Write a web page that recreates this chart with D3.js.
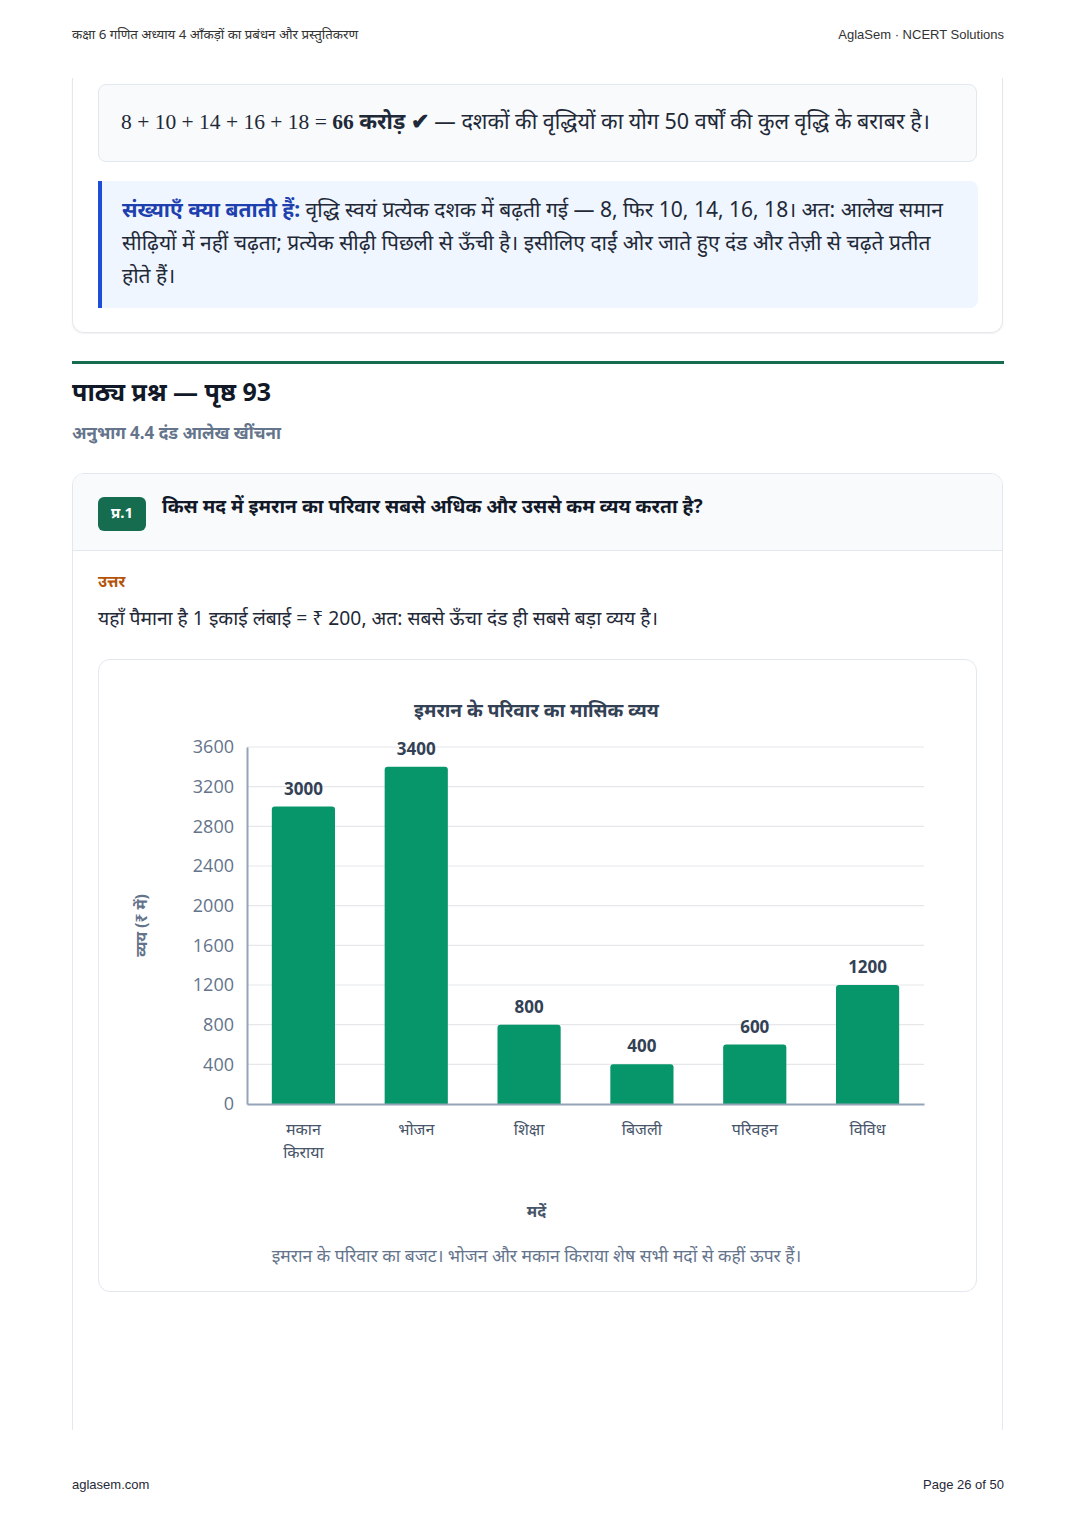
<!DOCTYPE html>
<html lang="hi">
<head>
<meta charset="utf-8">
<script src="https://cdn.jsdelivr.net/npm/d3@7"></script>
<style>
  html, body { margin: 0; padding: 0; background: #fff; }
  body { width: 1076px; height: 1522px; position: relative; font-family: "Noto Sans", sans-serif; color: #1f2937; overflow: hidden; }
  .abs { position: absolute; }
  .hdr { top: 25px; font-size: 13.3px; color: #333; }
  .latin { font-family: "Liberation Sans", Arial, sans-serif; font-size: 13px; top: 27px; }
  .outer1 { left: 72px; top: 78px; width: 929px; height: 254px; border: 1px solid #e5e7eb; border-top: none; border-radius: 0 0 12px 12px; box-shadow: 0 1px 2px rgba(0,0,0,0.06); }
  .formula { left: 98px; top: 84px; width: 877px; height: 76px; background: #f8fafc; border: 1px solid #e2e8f0; border-radius: 8px; }
  .formula p { margin: 0; position: absolute; left: 22px; top: 21px; font-size: 21.5px; color: #1f2937; white-space: nowrap; }
  .serif { font-family: "Liberation Serif", serif; font-size: 21.5px; }
  .callout { left: 98px; top: 181px; width: 876px; height: 127px; background: #eff6ff; border-left: 4px solid #1d4ed8; border-radius: 0 8px 8px 0; }
  .callout p { margin: 0; position: absolute; left: 20px; top: 12px; width: 835px; font-size: 21px; line-height: 33px; color: #1f2937; }
  .callout b { color: #1e40af; }
  .rule { left: 72px; top: 361px; width: 932px; height: 3px; background: #166c4e; }
  .h2 { left: 72px; top: 374px; font-size: 25px; font-weight: 700; color: #111827; }
  .h3 { left: 72px; top: 421px; font-size: 17px; font-weight: 700; color: #64748b; }
  .qcard { left: 72px; top: 473px; width: 929px; height: 1000px; border: 1px solid #e2e8f0; border-radius: 12px; overflow: hidden; }
  .qhead { left: 0; top: 0; width: 929px; height: 76px; background: #f8fafc; border-bottom: 1px solid #e2e8f0; }
  .badge { left: 25px; top: 23px; width: 48px; height: 34px; background: #166c4e; border-radius: 6px; color: #fff; font-weight: 700; font-size: 15px; text-align: center; line-height: 30px; }
  .qtext { left: 89px; top: 18px; font-size: 19.2px; font-weight: 700; color: #111827; }
  .ans { left: 98px; top: 570px; font-size: 15.5px; font-weight: 700; color: #b45309; }
  .ansp { left: 98px; top: 604px; font-size: 19.3px; color: #1f2937; }
  .chartcard { left: 98px; top: 659px; width: 877px; height: 631px; border: 1px solid #e2e8f0; border-radius: 12px; background: #fff; }
  .pagecut { left: 0; top: 1430px; width: 1076px; height: 92px; background: #fff; }
</style>
</head>
<body>
<div class="abs hdr" style="left:72px;">कक्षा 6 गणित अध्याय 4 आँकड़ों का प्रबंधन और प्रस्तुतिकरण</div>
<div class="abs hdr latin" style="right:72px;">AglaSem · NCERT Solutions</div>

<div class="abs outer1"></div>
<div class="abs formula"><p><span class="serif">8 + 10 + 14 + 16 + 18 = <b>66</b></span> <b>करोड़ ✔</b> — दशकों की वृद्धियों का योग 50 वर्षों की कुल वृद्धि के बराबर है।</p></div>
<div class="abs callout"><p><b>संख्याएँ क्या बताती हैं:</b> वृद्धि स्वयं प्रत्येक दशक में बढ़ती गई — 8, फिर 10, 14, 16, 18। अत: आलेख समान सीढ़ियों में नहीं चढ़ता; प्रत्येक सीढ़ी पिछली से ऊँची है। इसीलिए दाईं ओर जाते हुए दंड और तेज़ी से चढ़ते प्रतीत होते हैं।</p></div>

<div class="abs rule"></div>
<div class="abs h2">पाठ्य प्रश्न — पृष्ठ 93</div>
<div class="abs h3">अनुभाग 4.4 दंड आलेख खींचना</div>

<div class="abs qcard">
  <div class="abs qhead">
    <div class="abs badge">प्र.1</div>
    <div class="abs qtext">किस मद में इमरान का परिवार सबसे अधिक और उससे कम व्यय करता है?</div>
  </div>
</div>
<div class="abs pagecut"></div>
<div class="abs ans">उत्तर</div>
<div class="abs ansp">यहाँ पैमाना है 1 इकाई लंबाई = ₹ 200, अत: सबसे ऊँचा दंड ही सबसे बड़ा व्यय है।</div>

<div class="abs chartcard" id="chart"></div>

<div class="abs latin" style="left:72px; top:1477px;">aglasem.com</div>
<div class="abs latin" style="right:72px; top:1477px;">Page 26 of 50</div>

<script>
// data
var items = [["मकान", "किराया"], ["भोजन"], ["शिक्षा"], ["बिजली"], ["परिवहन"], ["विविध"]];
var spend = [3000, 3400, 800, 400, 600, 1200];
var yTicks = [0, 400, 800, 1200, 1600, 2000, 2400, 2800, 3200, 3600];

var chartTitle = "इमरान के परिवार का मासिक व्यय";
var xTitle = "मदें";
var yTitle = "व्यय (₹ में)";
var caption = "इमरान के परिवार का बजट। भोजन और मकान किराया शेष सभी मदों से कहीं ऊपर हैं।";

var data = items.map(function (d, i) {
    return {key: d.join(" "), lines: d, value: spend[i]};
});

var W = 877, H = 631;
var margin = {top: 87, right: 52, bottom: 187, left: 148};
var width = W - margin.left - margin.right,
    height = H - margin.top - margin.bottom;

var svg = d3.select("#chart").append("svg")
    .attr("width", W)
    .attr("height", H)
    .style("position", "absolute")
    .style("left", 0)
    .style("top", 0);

var g = svg.append("g")
    .attr("transform", "translate(" + margin.left + "," + margin.top + ")");

var x = d3.scaleBand()
    .domain(data.map(function (d) { return d.key; }))
    .range([0, width])
    .paddingInner(0.44)
    .paddingOuter(0.22);

var y = d3.scaleLinear()
    .domain([0, 3600])
    .range([height, 0]);

// gridlines
g.append("g")
    .selectAll("line")
    .data(yTicks.slice(1))
    .enter().append("line")
    .attr("x1", 0)
    .attr("x2", width)
    .attr("y1", function (d) { return y(d); })
    .attr("y2", function (d) { return y(d); })
    .style("stroke", "#e5e7eb")
    .style("stroke-width", 1.2);

// y axis
var yAxis = g.append("g")
    .call(d3.axisLeft(y).tickValues(yTicks).tickFormat(d3.format("d")).tickSize(0).tickPadding(13));
yAxis.select(".domain").style("stroke", "#94a3b8").style("stroke-width", 2);
yAxis.selectAll("text")
    .style("font-family", "'Open Sans', 'Noto Sans', sans-serif")
    .style("font-size", "18px")
    .style("fill", "#64748b");

// bars
g.selectAll(".bar")
    .data(data)
    .enter().append("path")
    .attr("class", "bar")
    .attr("d", function (d) {
        var x0 = x(d.key), x1 = x0 + x.bandwidth(), y0 = y(d.value), yb = y(0), r = 3;
        return "M" + x0 + "," + yb + "V" + (y0 + r) + "Q" + x0 + "," + y0 + " " + (x0 + r) + "," + y0 +
            "H" + (x1 - r) + "Q" + x1 + "," + y0 + " " + x1 + "," + (y0 + r) + "V" + yb + "Z";
    })
    .style("fill", "#069669");

// value labels
g.selectAll(".val")
    .data(data)
    .enter().append("text")
    .attr("class", "val")
    .attr("x", function (d) { return x(d.key) + x.bandwidth() / 2; })
    .attr("y", function (d) { return y(d.value) - 12; })
    .attr("text-anchor", "middle")
    .style("font-family", "'Open Sans', 'Noto Sans', sans-serif")
    .style("font-weight", 700)
    .style("font-size", "17px")
    .style("fill", "#334155")
    .text(function (d) { return d.value; });

// x axis
var xAxis = g.append("g")
    .attr("transform", "translate(0," + height + ")")
    .call(d3.axisBottom(x).tickSize(0).tickFormat(""));
xAxis.select(".domain").style("stroke", "#94a3b8").style("stroke-width", 2);

var xl = g.selectAll(".xlab")
    .data(data)
    .enter().append("text")
    .attr("class", "xlab")
    .attr("x", function (d) { return x(d.key) + x.bandwidth() / 2; })
    .attr("y", height + 31)
    .attr("text-anchor", "middle")
    .style("font-size", "16px")
    .style("fill", "#475569");
xl.selectAll("tspan")
    .data(function (d) { return d.lines; })
    .enter().append("tspan")
    .attr("x", function () { return d3.select(this.parentNode).attr("x"); })
    .attr("dy", function (d, i) { return i ? 23 : 0; })
    .text(function (d) { return d; });

// titles
svg.append("text")
    .attr("x", W / 2 - 1)
    .attr("y", 57)
    .attr("text-anchor", "middle")
    .style("font-weight", 700)
    .style("font-size", "19px")
    .style("fill", "#334155")
    .text(chartTitle);

svg.append("text")
    .attr("x", W / 2 - 1)
    .attr("y", 557)
    .attr("text-anchor", "middle")
    .style("font-weight", 700)
    .style("font-size", "16px")
    .style("fill", "#475569")
    .text(xTitle);

svg.append("text")
    .attr("transform", "translate(48," + (margin.top + height / 2) + ") rotate(-90)")
    .attr("text-anchor", "middle")
    .style("font-weight", 700)
    .style("font-size", "15.5px")
    .style("fill", "#64748b")
    .text(yTitle);

svg.append("text")
    .attr("x", W / 2 - 1)
    .attr("y", 602)
    .attr("text-anchor", "middle")
    .style("font-size", "17.5px")
    .style("fill", "#64748b")
    .text(caption);
</script>
</body>
</html>
